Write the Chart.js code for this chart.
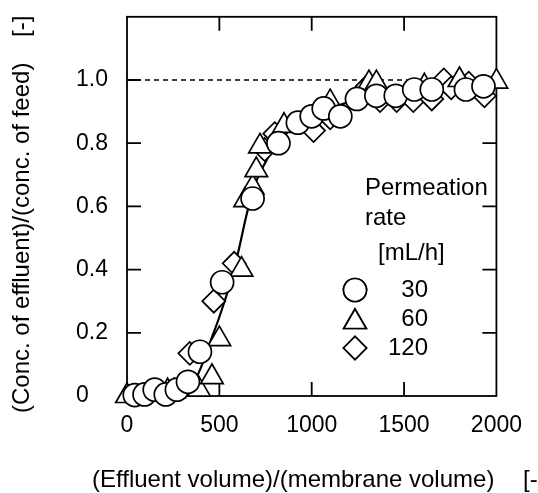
<!DOCTYPE html>
<html>
<head>
  <title>Breakthrough curve</title>
  <style>
    body { margin: 0; background: #fff; }
    canvas { display: block; }
  </style>
</head>
<body>
  <canvas id="btChart" width="538" height="493"></canvas>

  <script src="https://cdn.jsdelivr.net/npm/chart.js"></script>
  <script>
    // axis ticks
    const xTicks = [0, 500, 1000, 1500, 2000];
    const xTickLabels = ['0', '500', '1000', '1500', '2000'];
    const yTicks = [0, 0.2, 0.4, 0.6, 0.8, 1.0];
    const yTickLabels = ['0', '0.2', '0.4', '0.6', '0.8', '1.0'];

    // permeation rate 30 mL/h (circles)
    const x30 = [42, 95, 150, 210, 270, 330, 395, 515, 680, 820, 925, 1000, 1065, 1155, 1245, 1350, 1455, 1555, 1650, 1835, 1930];
    const y30 = [0.003, 0.005, 0.02, 0.005, 0.02, 0.045, 0.14, 0.36, 0.625, 0.80, 0.865, 0.885, 0.91, 0.885, 0.94, 0.95, 0.95, 0.97, 0.97, 0.97, 0.98];

    // permeation rate 60 mL/h (triangles)
    const x60 = [0, 220, 255, 390, 460, 500, 620, 640, 680, 700, 720, 850, 1100, 1310, 1350, 1610, 1800, 2000];
    const y60 = [0, 0.015, 0.015, 0.02, 0.06, 0.18, 0.40, 0.62, 0.66, 0.715, 0.79, 0.855, 0.93, 0.99, 0.99, 0.98, 1.0, 0.995];

    // permeation rate 120 mL/h (diamonds)
    const x120 = [340, 470, 580, 745, 800, 1010, 1100, 1300, 1370, 1460, 1550, 1650, 1715, 1755, 1850, 1935];
    const y120 = [0.135, 0.30, 0.42, 0.78, 0.83, 0.84, 0.88, 0.98, 0.935, 0.935, 0.935, 0.94, 1.0, 0.975, 0.99, 0.95];

    // fitted curve
    const xFit = [0, 200, 300, 350, 400, 450, 500, 550, 600, 650, 700, 750, 800, 900, 1000, 1100, 1200, 1300, 1400, 1500, 1600, 1700, 1800, 1900, 2000];
    const yFit = [0, 0.003, 0.01, 0.03, 0.09, 0.17, 0.25, 0.34, 0.45, 0.58, 0.68, 0.74, 0.79, 0.85, 0.885, 0.91, 0.93, 0.945, 0.955, 0.962, 0.968, 0.973, 0.978, 0.982, 0.985];

    // C/C0 = 1 reference
    const xRef = [0, 2000];
    const yRef = [1, 1];

    const rateLabels = ['30', '60', '120'];

    const pts = (xs, ys) => xs.map((x, i) => ({ x: x, y: ys[i] }));

    const textFont = '"Liberation Sans", Arial, Helvetica, sans-serif';

    // frame, inward ticks, titles and the inside legend
    const decor = {
      id: 'decor',
      beforeDatasetsDraw(chart) {
        const ctx = chart.ctx;
        const a = chart.chartArea;
        const xs = chart.scales.x, ys = chart.scales.y;
        const tl = 14;
        ctx.save();
        ctx.strokeStyle = '#000';
        ctx.lineWidth = 1.8;
        ctx.strokeRect(a.left, a.top, a.right - a.left, a.bottom - a.top);
        ctx.beginPath();
        xTicks.slice(1, -1).forEach(v => {
          const px = xs.getPixelForValue(v);
          ctx.moveTo(px, a.bottom); ctx.lineTo(px, a.bottom - tl);
          ctx.moveTo(px, a.top); ctx.lineTo(px, a.top + tl);
        });
        yTicks.slice(1).forEach(v => {
          const py = ys.getPixelForValue(v);
          ctx.moveTo(a.left, py); ctx.lineTo(a.left + tl, py);
          ctx.moveTo(a.right, py); ctx.lineTo(a.right - tl, py);
        });
        ctx.stroke();
        ctx.restore();
      },
      afterDraw(chart) {
        const ctx = chart.ctx;
        const a = chart.chartArea;
        ctx.save();
        ctx.fillStyle = '#000';
        ctx.textBaseline = 'middle';
        ctx.textAlign = 'left';

        // x title
        ctx.font = '24px ' + textFont;
        ctx.fillText('(Effluent volume)/(membrane volume)', 92, 480);
        ctx.fillText('[-]', 523, 480);

        // y title
        ctx.save();
        ctx.translate(22, 413);
        ctx.rotate(-Math.PI / 2);
        ctx.fillText('(Conc. of effluent)/(conc. of feed)', 0, 0);
        ctx.restore();
        ctx.save();
        ctx.translate(22, 37);
        ctx.rotate(-Math.PI / 2);
        ctx.fillText('[-]', 0, 0);
        ctx.restore();

        // legend
        ctx.fillText('Permeation', a.left + 238, 188);
        ctx.fillText('rate', a.left + 238, 218);
        ctx.fillText('[mL/h]', a.left + 251, 253);
        const rows = [290, 319, 348];
        const markerX = a.left + 228;
        ctx.textAlign = 'right';
        chart.data.datasets.slice(0, 3).forEach((ds, i) => {
          Chart.helpers.drawPoint(ctx, {
            pointStyle: ds.pointStyle,
            radius: ds.pointRadius,
            rotation: 0,
            borderWidth: ds.pointBorderWidth
          }, markerX, rows[i] + (ds.pointStyle === 'triangle' ? 3 : 0));
          ctx.fillStyle = '#fff';
          ctx.fill();
          ctx.strokeStyle = '#000';
          ctx.lineWidth = ds.pointBorderWidth;
          ctx.stroke();
          ctx.fillStyle = '#000';
          ctx.fillText(rateLabels[i], a.left + 301, rows[i]);
        });
        ctx.restore();
      }
    };

    const marker = (label, data, style, r, order) => ({
      label: label,
      data: data,
      showLine: false,
      pointStyle: style,
      pointRadius: r,
      pointBackgroundColor: '#fff',
      pointBorderColor: '#000',
      pointBorderWidth: 1.7,
      clip: false,
      order: order
    });

    new Chart(document.getElementById('btChart'), {
      type: 'scatter',
      data: {
        datasets: [
          marker('30', pts(x30, y30), 'circle', 11.5, 0),
          marker('60', pts(x60, y60), 'triangle', 13, 1),
          marker('120', pts(x120, y120), 'rectRot', 11.5, 2),
          {
            label: 'fit',
            data: pts(xFit, yFit),
            showLine: true,
            pointRadius: 0,
            borderColor: '#000',
            borderWidth: 2.2,
            cubicInterpolationMode: 'monotone',
            order: 10
          },
          {
            label: 'C/C0 = 1',
            data: pts(xRef, yRef),
            showLine: true,
            pointRadius: 0,
            borderColor: '#000',
            borderWidth: 1.5,
            borderDash: [5, 4],
            order: 20
          }
        ]
      },
      options: {
        responsive: false,
        animation: false,
        devicePixelRatio: 1,
        layout: { padding: { left: 76, right: 31, top: 14, bottom: 0 } },
        plugins: {
          legend: { display: false },
          tooltip: { enabled: false }
        },
        scales: {
          x: {
            type: 'linear',
            min: 0,
            max: 2000,
            afterBuildTicks: s => { s.ticks = xTicks.map(v => ({ value: v })); },
            afterFit: s => { s.height = 97; },
            grid: { display: false, drawTicks: false },
            border: { display: false },
            ticks: {
              padding: 16,
              color: '#000',
              font: { family: textFont, size: 23 },
              callback: (v, i) => xTickLabels[i]
            }
          },
          y: {
            type: 'linear',
            min: 0,
            max: 1.2,
            afterBuildTicks: s => { s.ticks = yTicks.map(v => ({ value: v })); },
            afterFit: s => { s.width = 51; },
            grid: { display: false, drawTicks: false },
            border: { display: false },
            ticks: {
              crossAlign: 'far',
              color: '#000',
              font: { family: textFont, size: 23 },
              callback: (v, i) => yTickLabels[i]
            }
          }
        }
      },
      plugins: [decor]
    });
  </script>
</body>
</html>
